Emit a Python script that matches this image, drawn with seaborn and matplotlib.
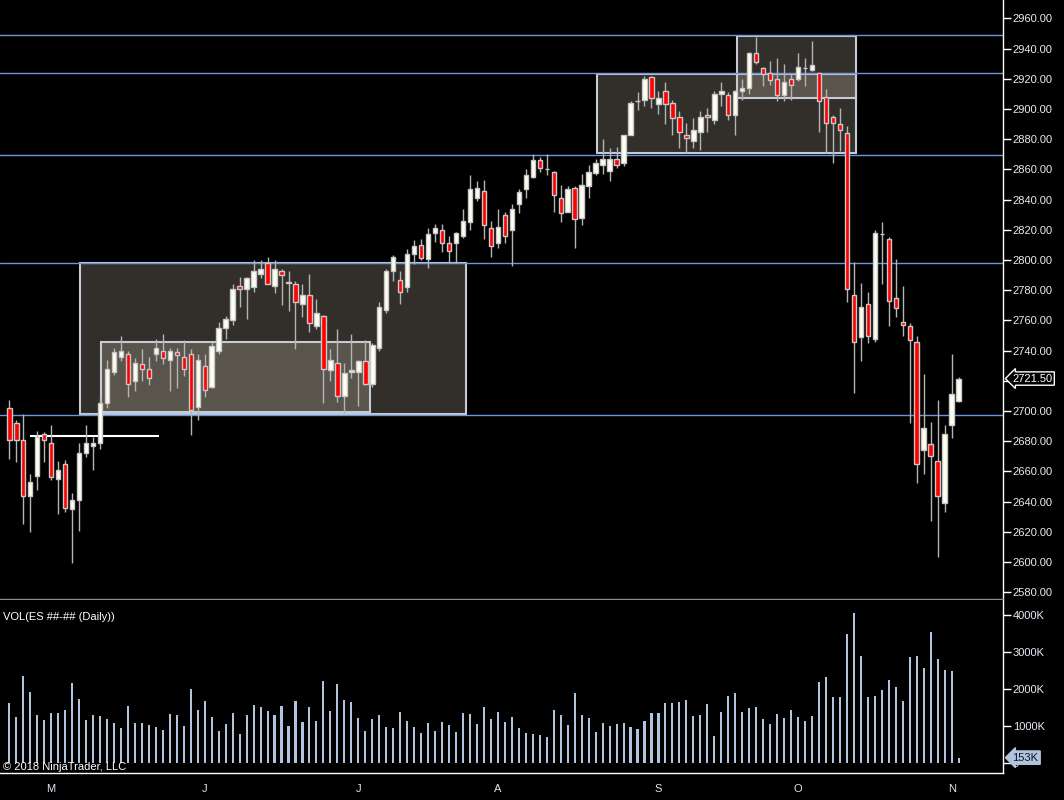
import numpy as np
import pandas as pd
import seaborn as sns
import matplotlib.pyplot as plt
from matplotlib.patches import Rectangle
from matplotlib.transforms import blended_transform_factory

# daily ES bars, late April -> 2 Nov 2018
opens = [2702, 2692, 2681, 2644, 2657, 2685, 2679, 2655, 2665, 2635,
         2641, 2672, 2677, 2679, 2705, 2726, 2736, 2737.5, 2720, 2731,
         2727.6, 2738, 2740, 2734, 2739, 2736, 2738, 2702.5, 2730, 2716,
         2740, 2755, 2760, 2783, 2781, 2782, 2791, 2798, 2783, 2792.5,
         2785, 2784, 2771, 2777, 2756, 2763, 2727, 2732, 2710, 2725.6,
         2726, 2733, 2718, 2742, 2767, 2793, 2787, 2782, 2804, 2810,
         2801, 2818, 2820, 2811, 2811, 2816, 2825, 2841, 2846, 2821.5,
         2811, 2829.5, 2820, 2837, 2847, 2855, 2866.5, 2860, 2858.6, 2841,
         2832, 2847.5, 2828, 2849, 2857.4, 2863, 2859, 2867, 2864, 2883,
         2905, 2906, 2921, 2903, 2912, 2904, 2894.5, 2883, 2879, 2885,
         2896, 2892.5, 2910, 2909, 2896, 2912, 2914, 2937, 2927, 2924,
         2920, 2909, 2920, 2920, 2927, 2926, 2923.6, 2908, 2895, 2890,
         2884, 2777, 2749, 2771, 2748, 2817, 2814, 2775, 2759, 2756,
         2745.5, 2674, 2678, 2667, 2639, 2691, 2706.4]
highs = [2707, 2694, 2698, 2658, 2687, 2686, 2691, 2667, 2667.5, 2645.5,
         2678.6, 2690.7, 2683, 2709.5, 2734, 2741.5, 2750, 2740, 2735, 2741,
         2736, 2748, 2751, 2742, 2742, 2747, 2741, 2738, 2738, 2746,
         2759, 2763, 2784, 2789, 2789, 2800, 2800, 2802, 2800, 2794,
         2792.5, 2786, 2784, 2791, 2774, 2763.4, 2741, 2754, 2732, 2751,
         2734, 2747, 2745, 2772, 2794, 2803, 2793, 2807, 2813, 2814,
         2821.5, 2824, 2824, 2816, 2818.3, 2834, 2856, 2852, 2853, 2826,
         2833.5, 2831.5, 2837, 2847, 2860, 2870, 2868.5, 2870, 2859, 2849.5,
         2849, 2849, 2857, 2863, 2867, 2880, 2874, 2875, 2883, 2905,
         2911, 2922, 2922, 2912, 2918, 2906, 2898.5, 2890.5, 2894, 2898.5,
         2901, 2912, 2918, 2911, 2912.4, 2920, 2938, 2947.5, 2927.6, 2932,
         2934, 2930, 2923, 2937, 2934, 2945, 2924, 2913, 2896, 2901,
         2888.5, 2799, 2785, 2779, 2820, 2825, 2815, 2801, 2783, 2758,
         2750, 2724.5, 2693, 2707, 2690.5, 2738, 2722.3]
lows = [2668, 2666, 2625, 2620, 2648, 2666, 2654, 2632, 2633, 2599.5,
        2620.7, 2669.7, 2661, 2675, 2702, 2724, 2733, 2709.5, 2713, 2720,
        2717, 2733, 2731, 2713, 2715, 2723, 2684, 2694, 2709, 2715,
        2738, 2748, 2757, 2769, 2761, 2779, 2788, 2784, 2778, 2770,
        2766, 2741, 2762, 2752, 2754.5, 2705.5, 2720, 2706, 2698.5, 2722,
        2703.5, 2717, 2716, 2740, 2765, 2786, 2771, 2779, 2797.5, 2800,
        2795, 2812, 2805, 2798, 2798, 2814.5, 2820, 2839, 2814, 2802,
        2808, 2811, 2796, 2831, 2841, 2854, 2858.6, 2856.5, 2832, 2825,
        2831.5, 2808, 2823, 2841, 2856, 2857, 2852, 2861, 2862, 2882.6,
        2899.5, 2902, 2900.5, 2897, 2890, 2883, 2874, 2871, 2874, 2873,
        2885, 2890, 2902, 2892.5, 2883, 2906, 2910, 2929.6, 2915, 2916,
        2905, 2905, 2906, 2918.5, 2915, 2925, 2885, 2871, 2864, 2872,
        2772, 2712, 2733, 2745, 2746, 2784, 2756.5, 2762.5, 2750, 2692,
        2652.5, 2658.5, 2627, 2603, 2633, 2682, 2706]
closes = [2681, 2681, 2644, 2653, 2683, 2681, 2656, 2661, 2636, 2641,
          2672, 2679, 2679, 2705, 2728, 2739, 2740, 2718, 2732, 2727.6,
          2722, 2742, 2735, 2740, 2737, 2728, 2701, 2734, 2714, 2743,
          2755, 2761, 2781, 2781, 2788, 2793, 2794, 2784, 2794, 2790,
          2785, 2772, 2777, 2758, 2765, 2728, 2734, 2710, 2725, 2727,
          2733, 2718, 2744, 2769, 2793, 2802, 2779, 2804, 2809, 2801.5,
          2817, 2821.5, 2811, 2806, 2818, 2826, 2847, 2848, 2823, 2809,
          2822, 2816, 2834, 2845, 2856, 2866, 2861, 2860, 2843, 2831,
          2847, 2827, 2850, 2858, 2864, 2867, 2867, 2863, 2883, 2904,
          2905, 2920, 2907, 2907, 2903, 2894, 2885, 2880.6, 2886, 2895,
          2894.5, 2910, 2912, 2896, 2912, 2914, 2937, 2931, 2923, 2919,
          2909, 2918, 2916, 2928, 2927, 2929, 2905, 2891, 2891, 2886,
          2781, 2746, 2769, 2749.5, 2818, 2817, 2773, 2768, 2757, 2747,
          2665, 2688.5, 2670, 2643.5, 2685, 2711, 2721.5]
# volume in thousands of contracts
volume_k = [1620, 1245, 2348, 1918, 1299, 1165, 1353, 1353, 1434, 2160,
            1729, 1165, 1299, 1272, 1192, 1084, 950, 1541, 1084, 1084,
            1030, 977, 896, 1326, 1299, 1004, 1998, 1434, 1676, 1245,
            869, 1057, 1353, 789, 1299, 1568, 1514, 1407, 1299, 1541,
            1004, 1676, 1111, 1514, 1138, 2213, 1407, 2133, 1703, 1649,
            1219, 869, 1192, 1299, 977, 950, 1380, 1138, 977, 815,
            1084, 869, 1111, 1030, 842, 1353, 1326, 1057, 1514, 1192,
            1380, 1111, 1245, 950, 815, 789, 762, 708, 1434, 1299,
            1030, 1891, 1299, 1219, 842, 1084, 1004, 1057, 1084, 977,
            923, 1138, 1353, 1353, 1622, 1622, 1649, 1703, 1272, 1299,
            1595, 735, 1380, 1810, 1891, 1380, 1487, 1514, 1192, 1057,
            1326, 1219, 1434, 1245, 1138, 1272, 2186, 2321, 1783, 1783,
            3477, 4041, 2885, 1783, 1810, 1971, 2240, 2052, 1676, 2858,
            2885, 2563, 3530, 2805, 2509, 2482, 153]

month_pos = [6, 28, 50, 70, 93, 113, 135]
month_lbl = ['M', 'J', 'J', 'A', 'S', 'O', 'N']

# drawing objects: horizontal levels and rectangles (bar index / price)
levels = [2949, 2923.8, 2869.5, 2798, 2697.4]
box_x0 = [10.13, 13.18, 84.24, 104.3]
box_x1 = [65.45, 51.7, 121.35, 121.35]
box_lo = [2698, 2699.1, 2870.7, 2907.1]
box_hi = [2798, 2745.5, 2923, 2948.1]
short_line = (2683.2, 2.97, 21.4)
last_price = 2721.50

df = pd.DataFrame({'o': opens, 'h': highs, 'l': lows, 'c': closes, 'vol': volume_k})
df['idx'] = np.arange(len(df))

sns.set_theme(style='dark', rc={'axes.facecolor': 'black', 'figure.facecolor': 'black'})
plt.rcParams['font.family'] = ['Liberation Sans', 'DejaVu Sans']

txt = '#e6ecf6'
xlim = (-1.332, 142.36)

fig = plt.figure(figsize=(10.64, 8), dpi=100)
ax = fig.add_axes([0, 201 / 800, 1003 / 1064, 599 / 800])
axv = fig.add_axes([0, 27 / 800, 1003 / 1064, 173 / 800])

# boxes and levels
for x0, x1, lo, hi in zip(box_x0, box_x1, box_lo, box_hi):
    ax.add_patch(Rectangle((x0, lo), x1 - x0, hi - lo, facecolor='#fff0d7', alpha=0.2,
                           edgecolor='none', zorder=1))
    ax.add_patch(Rectangle((x0, lo), x1 - x0, hi - lo, facecolor='none',
                           edgecolor='#c4cad6', lw=1.5, zorder=1.5))
for lv in levels:
    ax.axhline(lv, color='#6b96dc', lw=1, zorder=2)
ax.hlines(short_line[0], short_line[1], short_line[2], color='white', lw=1.5, zorder=2)

# candles
up = df.c >= df.o
colors = np.where(up, '#fffff0', '#ff0000')
body_lo = np.minimum(df.o, df.c)
body_h = np.maximum((df.c - df.o).abs(), 0.4)
ax.vlines(df.idx, df.l, df.h, color='#b4b4b4', lw=1, zorder=3)
ax.bar(df.idx, body_h, bottom=body_lo, width=0.64, color=colors,
       edgecolor='#c8c8c8', linewidth=1, zorder=4)

ax.set_xlim(*xlim)
ax.set_ylim(2575.5, 2972.2)
ax.set_xticks([])
ax.yaxis.tick_right()
yt = np.arange(2580, 2961, 20)
ax.set_yticks(yt)
# the 2720 label sits under the last-price tag, as in the reference
ax.set_yticklabels(['' if v == 2720 else f'{v:.2f}' for v in yt])
ax.tick_params(axis='y', colors='white', labelcolor=txt, length=6, width=1,
               labelsize=8, pad=1, direction='out')
for s in ['top', 'left']:
    ax.spines[s].set_visible(False)
ax.spines['right'].set_color('white')
ax.spines['right'].set_linewidth(1)
ax.spines['bottom'].set_color('#8c8c8c')
ax.spines['bottom'].set_linewidth(1)

trans = blended_transform_factory(ax.transAxes, ax.transData)
ax.text(1.0095, last_price, f'{last_price:.2f}', transform=trans, ha='left', va='center',
        fontsize=8, color='white', clip_on=False, zorder=10,
        bbox=dict(boxstyle='larrow,pad=0.15', fc='black', ec='white', lw=1))

# volume panel
sns.barplot(x=df.idx, y=df.vol, native_scale=True, width=0.3, color='#b0c4de',
            saturation=1, errorbar=None, linewidth=0, ax=axv)
axv.set_xlim(*xlim)
axv.set_ylim(-261, 4396)
axv.set_xlabel('')
axv.set_ylabel('')
axv.yaxis.tick_right()
axv.set_yticks([0, 1000, 2000, 3000, 4000])
axv.set_yticklabels(['0', '1000K', '2000K', '3000K', '4000K'])
axv.set_xticks(month_pos)
axv.set_xticklabels(month_lbl)
axv.tick_params(axis='y', colors='white', labelcolor=txt, length=6, width=1,
                labelsize=8, pad=1, direction='out')
axv.tick_params(axis='x', colors='white', labelcolor='#dce6f5', length=6, width=1,
                labelsize=8, pad=2, direction='out')
for s in ['top', 'left']:
    axv.spines[s].set_visible(False)
for s in ['right', 'bottom']:
    axv.spines[s].set_color('white')
    axv.spines[s].set_linewidth(1)

transv = blended_transform_factory(axv.transAxes, axv.transData)
axv.text(1.0095, volume_k[-1], f'{volume_k[-1]}K', transform=transv, ha='left', va='center',
         fontsize=8, color='#101030', clip_on=False, zorder=10,
         bbox=dict(boxstyle='larrow,pad=0.15', fc='#b0c4de', ec='#b0c4de', lw=1))

fig.text(3 / 1064, 1 - 617 / 800, 'VOL(ES ##-## (Daily))', color='white', fontsize=8,
         ha='left', va='center')
fig.text(3 / 1064, 1 - 767 / 800, '\u00a9 2018 NinjaTrader, LLC', color='white', fontsize=8,
         ha='left', va='center')

fig.savefig('out.png', dpi=100, facecolor='black')
